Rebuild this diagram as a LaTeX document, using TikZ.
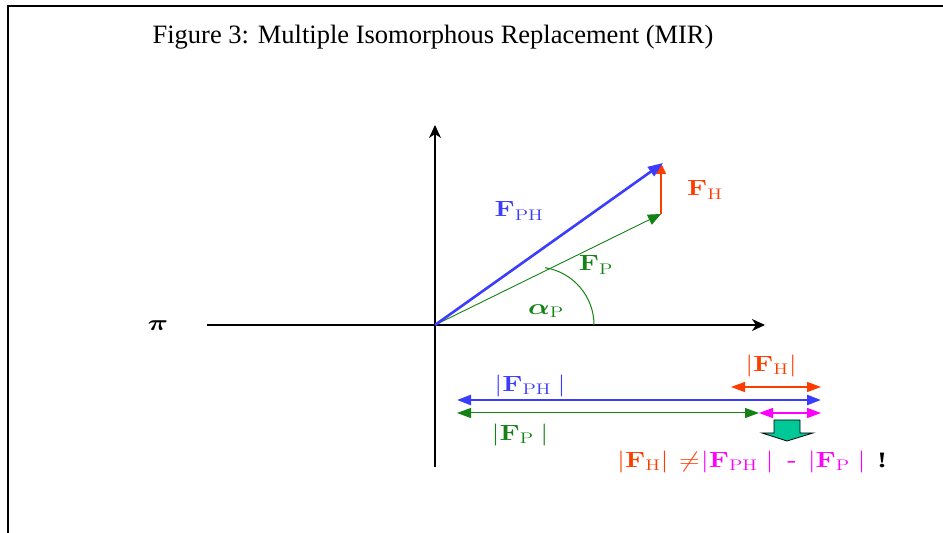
\documentclass[tikz,border=0pt]{standalone}
\usepackage{fix-cm}
\usepackage{amsmath,amssymb}
\usepackage{graphicx}
\usepackage[no-math]{fontspec}
\setmainfont{Liberation Serif}
\usetikzlibrary{arrows.meta,positioning,calc}
\definecolor{phblue}{RGB}{60,60,255}
\definecolor{pgreen}{RGB}{20,130,20}
\definecolor{hred}{RGB}{255,60,0}
\definecolor{diffmag}{RGB}{255,0,255}
\definecolor{blockteal}{RGB}{0,200,150}
\newcommand{\widelab}[1]{\scalebox{1.3}[1]{#1}}
\tikzset{
  lab/.style={inner sep=1pt,font=\fontsize{22}{24}\selectfont},
  mag/.style={inner sep=1pt,font=\fontsize{22}{24}\selectfont},
  axis/.style={line width=1.2pt,-{Stealth[length=13pt,width=12pt,inset=4pt]}},
  vec/.style={-{Triangle[length=13pt,width=11pt]}},
  both/.style={{Triangle[length=14pt,width=10pt]}-{Triangle[length=14pt,width=10pt]}}
}
\begin{document}
\begin{tikzpicture}[x=1pt,y=1pt]
      \useasboundingbox (0,0) rectangle (943,533);
      % frame and title
      \draw[line width=2pt] (8,0) -- (8,527) -- (943,527);
      \node[font=\fontsize{26.5}{30}\selectfont] (title) at (433,496) {Figure 3: Multiple Isomorphous Replacement (MIR)};
      % axes
      \coordinate (O) at (435,208);
      \coordinate (yb) at (435,66);
      \coordinate (yt) at (435,408);
      \coordinate (xl) at (207,208);
      \coordinate (xr) at (765,208);
      \draw[axis] (yb) -- (yt);
      \draw[axis] (xl) -- (xr);
      \node[lab] (pi) at (158,207) {\widelab{$\boldsymbol{\pi}$}};
      % vectors
      \coordinate (P) at (661,319);
      \coordinate (PH) at (663,370);
      \draw[pgreen,line width=0.9pt,vec] (O) -- (P);
      \draw[hred,line width=1.5pt,-{Triangle[length=11pt,width=10pt]}] (P) -- (P |- PH);
      \draw[phblue,line width=2.6pt,-{Triangle[length=15pt,width=11pt]}] (O) -- (PH);
      \draw[pgreen,line width=1pt] (594,208) arc[start angle=0,end angle=81,radius=58];
      \node[lab,phblue] (lph) at (519,322) {\widelab{$\mathbf{F}_{\mathrm{PH}}$}};
      \node[lab,hred] (lh) at (705,343) {\widelab{$\mathbf{F}_{\mathrm{H}}$}};
      \node[lab,pgreen] (lp) at (596,268) {\widelab{$\mathbf{F}_{\mathrm{P}}$}};
      \node[lab,pgreen] (la) at (546,222) {\widelab{$\boldsymbol{\alpha}_{\mathrm{P}}$}};
      % magnitudes
      \coordinate (hL) at (731,146);
      \coordinate (hR) at (821,146);
      \coordinate (phL) at (457,133);
      \coordinate (phR) at (821,133);
      \coordinate (pL) at (457,120);
      \coordinate (pR) at (759,120);
      \coordinate (mR) at (821,120);
      \draw[hred,line width=1.2pt,both] (hL) -- (hR);
      \draw[phblue,line width=2.6pt,both] (phL) -- (phR);
      \draw[pgreen,line width=1pt,both] (pL) -- (pR);
      \draw[diffmag,line width=1.2pt,both] (pR) -- (mR);
      \node[mag,hred] (mh) at (771,167) {\widelab{$|\mathbf{F}_{\mathrm{H}}|$}};
      \node[mag,phblue] (mph) at (530,147) {\widelab{$|\mathbf{F}_{\mathrm{PH}}$\hspace{5pt}$|$}};
      \node[mag,pgreen] (mp) at (520,98) {\widelab{$|\mathbf{F}_{\mathrm{P}}$\hspace{5pt}$|$}};
      % block arrow
      \draw[fill=blockteal,line width=0.8pt] (774,113) -- (800,113) -- (800,100) -- (813,100)
        -- (787,92) -- (762,100) -- (774,100) -- cycle;
      \node[mag,anchor=west,inner sep=0pt] (eq) at (617,71) {\widelab{\color{hred}$|\mathbf{F}_{\mathrm{H}}|$\hspace{8pt}$\neq$\hspace{1pt}\color{diffmag}$|\mathbf{F}_{\mathrm{PH}}$\hspace{6pt}$|$\hspace{10pt}-\hspace{9pt}$|\mathbf{F}_{\mathrm{P}}$\hspace{6pt}$|$\hspace{9pt}\color{black}\textbf{!}}};
    \end{tikzpicture}
\end{document}
